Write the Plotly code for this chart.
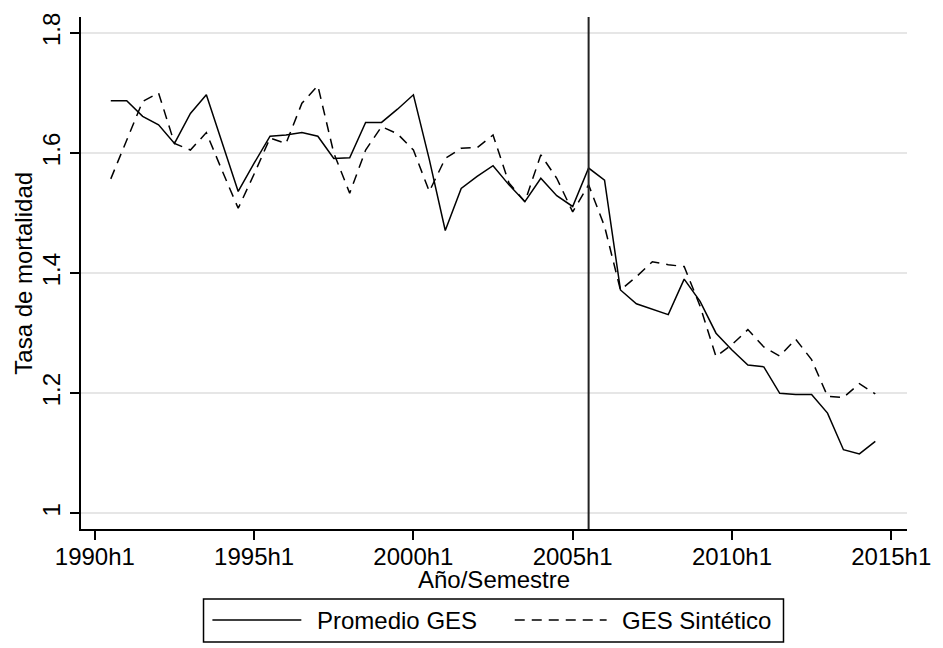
import plotly.graph_objects as go

# Semesters observed (1990h2 .. 2014h2) and the two mortality series
periods = [f"{y}h{h}" for y in range(1990, 2015) for h in (1, 2)][1:]

promedio_ges = [
    1.687, 1.687, 1.661, 1.647, 1.616, 1.666, 1.697, 1.616, 1.536, 1.583,
    1.628, 1.630, 1.634, 1.628, 1.591, 1.592, 1.651, 1.651, 1.673, 1.697,
    1.589, 1.471, 1.541, 1.561, 1.579, 1.547, 1.519, 1.558, 1.529, 1.511,
    1.575, 1.555, 1.372, 1.349, 1.340, 1.331, 1.390, 1.353, 1.300, 1.272,
    1.247, 1.244, 1.200, 1.198, 1.198, 1.167, 1.106, 1.099, 1.120,
]

ges_sintetico = [
    1.557, 1.622, 1.686, 1.700, 1.616, 1.605, 1.634, 1.570, 1.508, 1.565,
    1.625, 1.616, 1.683, 1.712, 1.600, 1.533, 1.605, 1.644, 1.632, 1.605,
    1.536, 1.591, 1.608, 1.609, 1.630, 1.550, 1.519, 1.597, 1.558, 1.502,
    1.547, 1.478, 1.372, 1.394, 1.419, 1.414, 1.411, 1.345, 1.261, 1.281,
    1.306, 1.277, 1.262, 1.290, 1.256, 1.195, 1.193, 1.216, 1.199,
]

x_tick_labels = ["1990h1", "1995h1", "2000h1", "2005h1", "2010h1", "2015h1"]
y_tick_values = [1.0, 1.2, 1.4, 1.6, 1.8]
y_tick_labels = ["1", "1.2", "1.4", "1.6", "1.8"]
treatment_period = "2005h2"

series_names = ["Promedio GES", "GES Sintético"]


def halfyear(p):
    """Stata %th value: half-years elapsed since 1960h1."""
    year, half = p.split("h")
    return (int(year) - 1960) * 2 + int(half) - 1


x = [halfyear(p) for p in periods]

FONT = "Arial, Liberation Sans, sans-serif"
W, H = 943, 648
L, R, T, B = 81, 26, 17, 119
PW, PH = W - L - R, H - T - B


def px(xp, yp):
    """Pixel position -> paper coordinates."""
    return (xp - L) / PW, (H - B - yp) / PH


fig = go.Figure()
fig.add_trace(go.Scatter(
    x=x, y=promedio_ges, mode="lines", name=series_names[0],
    line=dict(color="black", width=1.5), showlegend=False,
))
fig.add_trace(go.Scatter(
    x=x, y=ges_sintetico, mode="lines", name=series_names[1],
    line=dict(color="black", width=1.5, dash="10px,7px"), showlegend=False,
))

# Treatment start
fig.add_shape(type="line", xref="x", yref="paper",
              x0=halfyear(treatment_period), x1=halfyear(treatment_period),
              y0=0, y1=1, line=dict(color="#222222", width=2))

fig.update_xaxes(
    range=[59.13, 110.99],
    tickvals=[halfyear(t) for t in x_tick_labels], ticktext=x_tick_labels,
    ticks="outside", ticklen=9, tickwidth=1.5, tickcolor="black",
    ticklabelstandoff=-4,
    showline=True, linecolor="black", linewidth=2,
    showgrid=False, zeroline=False,
    tickfont=dict(family=FONT, size=24, color="black"),
)
fig.update_yaxes(
    range=[0.974, 1.8265],
    tickvals=y_tick_values, ticktext=y_tick_labels, tickangle=-90,
    ticks="outside", ticklen=9, tickwidth=1.5, tickcolor="black",
    showline=True, linecolor="black", linewidth=2,
    showgrid=True, gridcolor="#e6e6e6", gridwidth=1.5, zeroline=False,
    tickfont=dict(family=FONT, size=24, color="black"),
)

annotations = []
# Axis titles
ax, ay = px(22, 273)
annotations.append(dict(text="Tasa de mortalidad", x=ax, y=ay, xref="paper", yref="paper",
                        textangle=-90, showarrow=False, xanchor="center", yanchor="middle",
                        font=dict(family=FONT, size=24, color="black")))
ax, ay = px(499, 579)
annotations.append(dict(text="Año/Semestre", x=ax, y=ay, xref="paper", yref="paper",
                        showarrow=False, xanchor="center", yanchor="middle",
                        font=dict(family=FONT, size=24, color="black")))

# Legend box drawn below the plot
LEG_TOP, LEG_BOTTOM, LEG_MID = 599, 642, 620
x0, y0 = px(205, LEG_TOP)
x1, y1 = px(792, LEG_BOTTOM)
fig.add_shape(type="rect", xref="paper", yref="paper", x0=x0, y0=y0, x1=x1, y1=y1,
              line=dict(color="black", width=1.5), fillcolor="white")
legend_items = [
    (series_names[0], "solid", 214, 304, 318),
    (series_names[1], "10px,7px", 520, 613, 627),
]
for name, dash, lx0, lx1, tx in legend_items:
    a0, b0 = px(lx0, LEG_MID)
    a1, _ = px(lx1, LEG_MID)
    fig.add_shape(type="line", xref="paper", yref="paper", x0=a0, x1=a1, y0=b0, y1=b0,
                  line=dict(color="black", width=1.5, dash=dash))
    tx_, ty_ = px(tx, LEG_MID)
    annotations.append(dict(text=name, x=tx_, y=ty_, xref="paper", yref="paper",
                            showarrow=False, xanchor="left", yanchor="middle",
                            font=dict(family=FONT, size=24, color="black")))

fig.update_layout(
    width=W, height=H,
    margin=dict(l=L, r=R, t=T, b=B),
    paper_bgcolor="white", plot_bgcolor="white",
    annotations=annotations,
    showlegend=False,
)

fig.write_html("out.html")
